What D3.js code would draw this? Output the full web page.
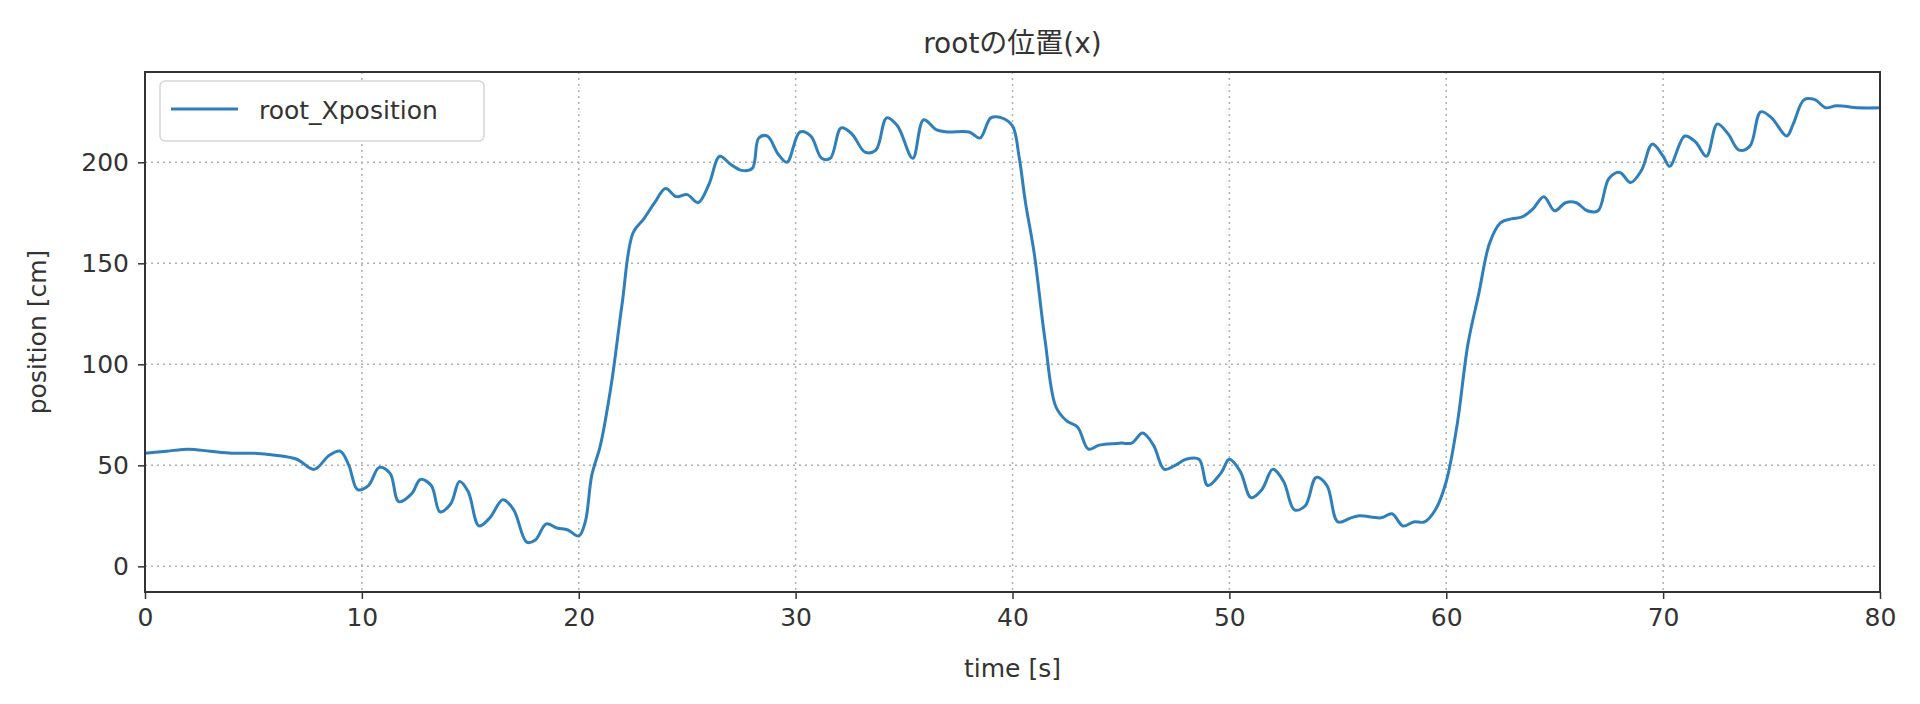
<!DOCTYPE html>
<html><head><meta charset="utf-8">
<script src="https://cdn.jsdelivr.net/npm/d3@7"></script>
<style>body{margin:0;background:#fff}svg{font-family:"DejaVu Sans","Noto Sans CJK JP",sans-serif}</style>
</head><body><svg id="c" width="1920" height="704"></svg>
<script>
// time [s] and root x position [cm]
var times = [0,1,2,3,4,5,6,7,7.8,8.5,9,9.4,9.8,10.3,10.8,11.3,11.7,12.3,12.7,13.2,13.6,14.1,14.5,14.9,15.4,15.9,16.5,17,17.6,18,18.5,19,19.5,20,20.3,20.6,21,21.5,22,22.5,23,23.5,24,24.5,25,25.5,26,26.5,27,27.5,28,28.3,28.7,29.2,29.6,30.2,30.7,31.2,31.6,32.1,32.6,33.2,33.7,34.2,34.7,35.4,35.9,36.5,37,38,38.5,39,39.5,40,40.3,40.6,41,41.5,42,42.5,43,43.5,44,45,45.5,46,46.5,47,47.5,48,48.6,49,49.6,50,50.5,51,51.5,52,52.5,53,53.5,54,54.5,55,55.6,56,57,57.5,58,58.5,59,59.5,60,60.5,61,61.5,62,62.5,63,63.5,64,64.5,65,65.5,66,66.5,67,67.5,68,68.5,69,69.5,70,70.3,71,71.5,72,72.5,73,73.5,74,74.5,75,75.7,76,76.5,77,77.5,78,79,80];
var xpos = [56,57,58,57,56,56,55,53,48,55,57,50,38,40,49,46,32,36,43,40,27,31,42,37,20,24,33,28,12,13,21,19,18,15,22,45,60,90,130,165,172,180,187,183,184,180,189,203,199,196,197,212,213,204,200,215,213,202,202,217,214,205,206,222,218,202,221,216,215,215,212,222,222,218,203,180,155,112,79,72,69,58,60,61,61,66,60,48,50,53,53,40,46,53,47,34,38,48,42,28,30,44,40,22,24,25,24,26,20,22,22,28,42,70,110,135,160,170,172,173,177,183,176,180,180,176,176,192,195,190,196,209,203,198,213,210,203,219,214,206,208,225,222,213,219,231,231,227,228,227,227];
var xTicks = [0,10,20,30,40,50,60,70,80];
var yTicks = [0,50,100,150,200];

var svg = d3.select("#c"),
  m = {l:145, r:1880, t:72, b:592};
var x = d3.scaleLinear().domain([0,80]).range([m.l,m.r]);
var y = d3.scaleLinear().domain([-12.7,244.7]).range([m.b,m.t]);

// grid
svg.append("g").selectAll("line").data(xTicks).enter().append("line")
  .attr("x1",d=>x(d)).attr("x2",d=>x(d)).attr("y1",m.t).attr("y2",m.b)
  .attr("stroke","#b0b0b0").attr("stroke-width",1.5).attr("stroke-dasharray","2,4");
svg.append("g").selectAll("line").data(yTicks).enter().append("line")
  .attr("y1",d=>y(d)).attr("y2",d=>y(d)).attr("x1",m.l).attr("x2",m.r)
  .attr("stroke","#b0b0b0").attr("stroke-width",1.5).attr("stroke-dasharray","2,4");

var line = d3.line().x((d,i)=>x(times[i])).y(d=>y(d)).curve(d3.curveCatmullRom);
svg.append("path").datum(xpos).attr("d",line).attr("fill","none")
  .attr("stroke","#2f7fba").attr("stroke-width",3);

// axes
var xa = svg.append("g").attr("transform","translate(0,"+m.b+")")
  .call(d3.axisBottom(x).tickValues(xTicks).tickSize(7).tickPadding(9));
var ya = svg.append("g").attr("transform","translate("+m.l+",0)")
  .call(d3.axisLeft(y).tickValues(yTicks).tickSize(7).tickPadding(9));
[xa,ya].forEach(function(a){
  a.select(".domain").remove();
  a.selectAll("text").attr("font-size",25).attr("fill","#333").attr("font-family","DejaVu Sans");
  a.selectAll("line").attr("stroke","#333").attr("stroke-width",1.5);
});
svg.append("rect").attr("x",m.l).attr("y",m.t).attr("width",m.r-m.l).attr("height",m.b-m.t)
  .attr("fill","none").attr("stroke","#333").attr("stroke-width",2);

// legend
svg.append("rect").attr("x",160).attr("y",81).attr("width",324).attr("height",60).attr("rx",5)
  .attr("fill","#fff").attr("stroke","#d6d6d6").attr("stroke-width",1.5);
svg.append("line").attr("x1",171).attr("x2",238).attr("y1",109).attr("y2",109)
  .attr("stroke","#2f7fba").attr("stroke-width",3);
svg.append("text").attr("x",259).attr("y",119).attr("font-size",25).attr("fill","#333").text("root_Xposition");

// labels
svg.append("text").attr("x",(m.l+m.r)/2).attr("y",53).attr("text-anchor","middle")
  .attr("font-size",28).attr("fill","#333").text("rootの位置(x)");
svg.append("text").attr("x",(m.l+m.r)/2).attr("y",677).attr("text-anchor","middle")
  .attr("font-size",25).attr("fill","#333").text("time [s]");
svg.append("text").attr("transform","translate(46,"+((m.t+m.b)/2)+") rotate(-90)")
  .attr("text-anchor","middle").attr("font-size",25).attr("fill","#333").text("position [cm]");
</script></body></html>
